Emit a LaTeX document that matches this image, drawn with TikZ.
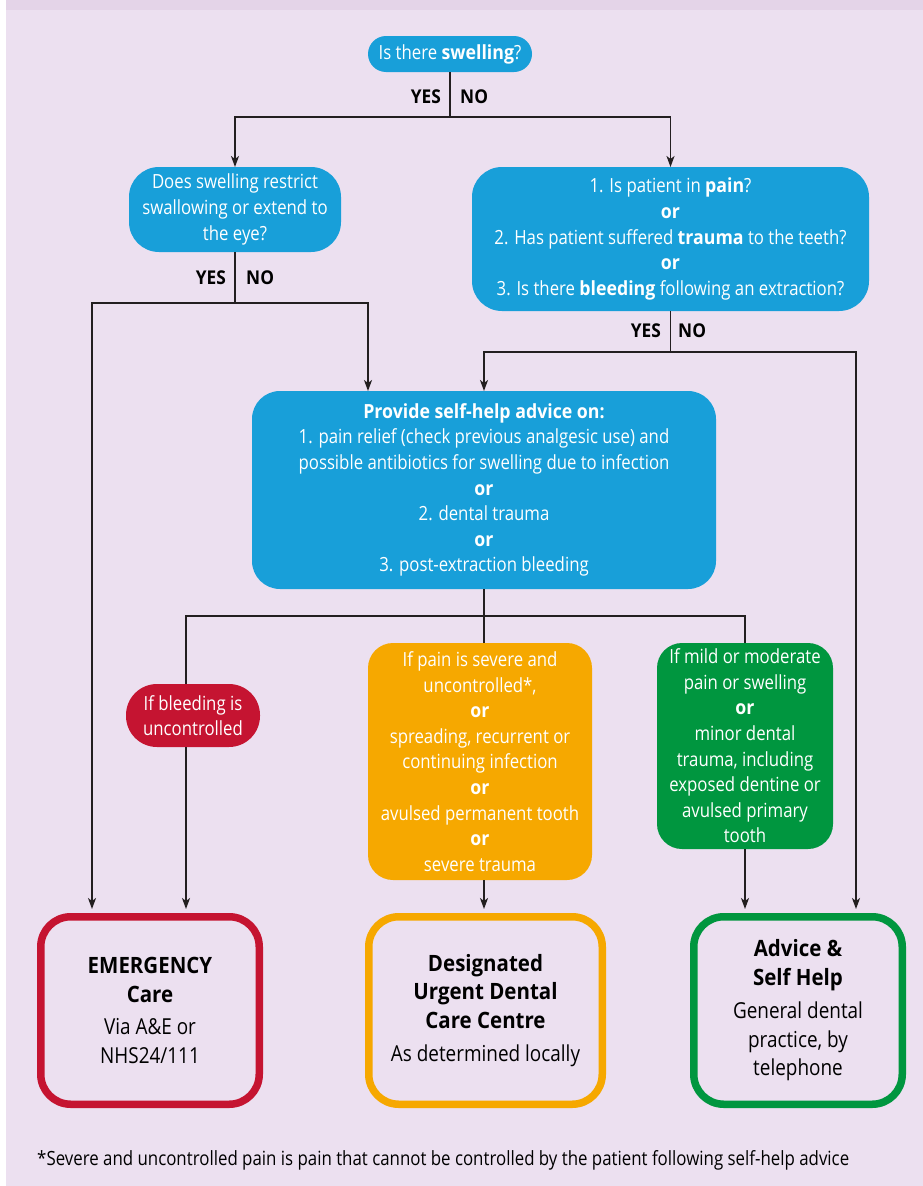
\documentclass[tikz,border=0pt]{standalone}
\usepackage{fontspec}
\setmainfont{Open Sans}[UprightFeatures={FakeStretch=0.86}, BoldFeatures={FakeStretch=0.91}]
\usetikzlibrary{arrows.meta}
\definecolor{cblue}{HTML}{189FD9}
\definecolor{cred}{HTML}{C51431}
\definecolor{corange}{HTML}{F6A800}
\definecolor{cgreen}{HTML}{00963F}
\definecolor{cbg}{HTML}{ECE0F0}
\definecolor{cband}{HTML}{E4D4E8}
\definecolor{cline}{HTML}{231F20}
\newcommand\myfs[2]{\fontsize{#1}{#2}\selectfont}
\newcommand\mybt{\fontsize{22.5}{28.5}\selectfont\bfseries}
\newcommand\myrg{\fontsize{22}{28.5}\selectfont\mdseries}
\begin{document}
\begin{tikzpicture}[x=1pt,y=-1pt,
  fillbox/.style={text=white, align=center, inner sep=0pt, outer sep=0pt, font=\myfs{19.5}{25.6}},
  outbox/.style={draw=#1, line width=7.5pt, rounded corners=30pt, align=center, inner sep=0pt, text=black, font=\myfs{22}{28.5}},
  ln/.style={draw=cline, line width=1.6pt},
  arr/.style={ln, -{Stealth[length=11pt,width=8pt,inset=3pt]}},
  yn/.style={font=\myfs{19}{22}\bfseries, text=black, inner sep=0pt}
]
\useasboundingbox (0,0) rectangle (923,1186);
\fill[white] (0,0) rectangle (923,1186);
\fill[cbg] (6,0) rectangle (923,1186);
\fill[cband] (6,0) rectangle (923,10);

% question nodes
\node[fillbox, fill=cblue, rounded corners=18pt, minimum width=164pt, minimum height=36pt] (q1) at (450,54) {Is there \textbf{swelling}?};
\node[fillbox, fill=cblue, rounded corners=30pt, minimum width=212pt, minimum height=85pt] (q2) at (235,209.5) {Does swelling restrict\\swallowing or extend to\\the eye?};
\node[fillbox, fill=cblue, rounded corners=30pt, minimum width=397pt, minimum height=144pt] (q3) at (670.5,239) {1. Is patient in \textbf{pain}?\\\textbf{or}\\2. Has patient suffered \textbf{trauma} to the teeth?\\\textbf{or}\\3. Is there \textbf{bleeding} following an extraction?};
\node[fillbox, fill=cblue, rounded corners=28pt, minimum width=464pt, minimum height=198pt] (sh) at (484,490) {\textbf{Provide self-help advice on:}\\1. pain relief (check previous analgesic use) and\\possible antibiotics for swelling due to infection\\\textbf{or}\\2. dental trauma\\\textbf{or}\\3. post-extraction bleeding};
\node[fillbox, fill=cred, rounded corners=31pt, minimum width=134pt, minimum height=63pt] (red) at (193,715.5) {If bleeding is\\uncontrolled};
\node[fillbox, fill=corange, rounded corners=25pt, minimum width=224pt, minimum height=237pt] (orange) at (480,761.5) {If pain is severe and\\uncontrolled*,\\\textbf{or}\\spreading, recurrent or\\continuing infection\\\textbf{or}\\avulsed permanent tooth\\\textbf{or}\\severe trauma};
\node[fillbox, fill=cgreen, rounded corners=25pt, minimum width=176pt, minimum height=206pt] (green) at (745,746) {If mild or moderate\\pain or swelling\\\textbf{or}\\minor dental\\trauma, including\\exposed dentine or\\avulsed primary\\tooth};

% outcome boxes
\node[outbox=cred, minimum width=218.5pt, minimum height=187.5pt] (E) at (150,1010.5) {\mybt EMERGENCY\\\mybt Care\\[4pt]\myrg Via A\&E or\\\myrg NHS24/111};
\node[outbox=corange, minimum width=233.5pt, minimum height=187.5pt] (D) at (485.5,1010.5) {\mybt Designated\\\mybt Urgent Dental\\\mybt Care Centre\\[5pt]\myrg As determined locally};
\node[outbox=cgreen, minimum width=208.5pt, minimum height=187.5pt] (A) at (798,1010.5) {\mybt Advice \&\\\mybt Self Help\\[5pt]\myrg General dental\\\myrg practice, by\\\myrg telephone};

% YES / NO labels
\node[yn, anchor=east] (y1) at (441,97) {YES};
\node[yn, anchor=west] (n1) at (460,97) {NO};
\node[yn, anchor=east] (y2) at (226,278) {YES};
\node[yn, anchor=west] (n2) at (246,278) {NO};
\node[yn, anchor=east] (y3) at (661,331) {YES};
\node[yn, anchor=west] (n3) at (678,331) {NO};

% junctions
\coordinate (j1) at (450,117);
\coordinate (j2) at (235,303);
\coordinate (j3) at (670.5,352);
\coordinate (j4) at (484,616);

% connectors
\draw[ln] (q1.south) -- (j1);
\draw[arr] (j1) -| (q2.north);
\draw[arr] (j1) -| (q3.north);

\draw[ln] (q2.south) -- (j2);
\draw[arr, shorten >=4pt] (j2) -| ([xshift=-58pt]E.north);
\draw[arr] (j2) -| ([xshift=-116pt]sh.north);

\draw[ln] (q3.south) -- (j3);
\draw[arr] (j3) -| (sh.north);
\draw[arr, shorten >=4pt] (j3) -| ([xshift=58pt]A.north);

\draw[ln] (sh.south) -- (j4);
\draw[ln] (j4) -| ([xshift=-7pt]red.north);
\draw[ln] (j4) -- (j4 |- orange.north);
\draw[ln] (j4) -| (green.north);

\draw[arr, shorten >=4pt] ([xshift=-7pt]red.south) -- ([xshift=-7pt]red.south |- E.north);
\draw[arr, shorten >=4pt] ([xshift=4pt]orange.south) -- ([xshift=4pt]orange.south |- D.north);
\draw[arr, shorten >=4pt] (green.south) -- (green.south |- A.north);

% footnote
\node[anchor=west, inner sep=0pt, font=\myfs{19.6}{22}, text=black] (fn) at (37,1160) {*Severe and uncontrolled pain is pain that cannot be controlled by the patient following self-help advice};
\end{tikzpicture}
\end{document}
